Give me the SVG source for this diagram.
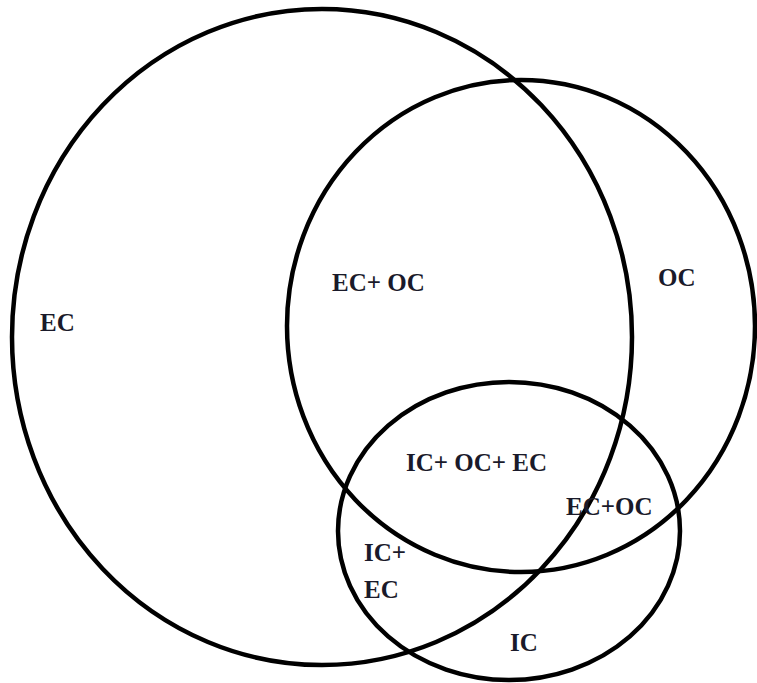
<svg xmlns="http://www.w3.org/2000/svg" width="757" height="683" viewBox="0 0 757 683">
<style>
.c{fill:none;stroke:#000;stroke-width:4.5}
.t{font-family:"Liberation Serif",serif;font-weight:bold;font-size:25px;fill:#1a1a2a}
</style>
<rect width="757" height="683" fill="#fff"/>
<g id="EC"><ellipse class="c" cx="322" cy="337" rx="310" ry="328"/><text class="t" x="40" y="331">EC</text></g>
<g id="OC"><ellipse class="c" cx="521" cy="326" rx="234" ry="246"/><text class="t" x="658" y="286">OC</text></g>
<g id="IC"><ellipse class="c" cx="509" cy="531" rx="171" ry="149"/><text class="t" x="510" y="651">IC</text></g>
<g id="labels">
<text class="t" x="332" y="291">EC+ OC</text>
<text class="t" x="406" y="471">IC+ OC+ EC</text>
<text class="t" x="566" y="515">EC+OC</text>
<text class="t" x="364" y="561">IC+</text>
<text class="t" x="364" y="598">EC</text>
</g>
</svg>
